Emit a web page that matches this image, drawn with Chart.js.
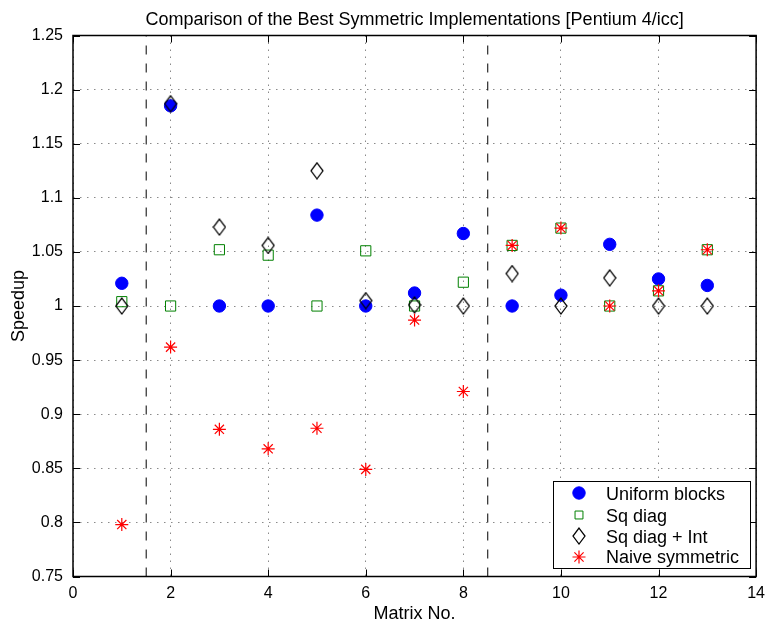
<!DOCTYPE html>
<html>
<head>
<meta charset="utf-8">
<script src="https://cdn.jsdelivr.net/npm/chart.js@4/dist/chart.umd.min.js"></script>
<style>
  html, body { margin: 0; padding: 0; background: #fff; }
  #wrap { width: 772px; height: 626px; }
</style>
</head>
<body>
<div id="wrap"><canvas id="c" width="772" height="626"></canvas></div>
<script>
// Speedup of each symmetric variant, per test matrix
const matrices = [1, 2, 3, 4, 5, 6, 7, 8, 9, 10, 11, 12, 13];
const uniformBlocks = [1.021, 1.185, 1.000, 1.000, 1.084, 1.000, 1.012, 1.067, 1.000, 1.010, 1.057, 1.025, 1.019];
const sqDiag        = [1.004, 1.000, 1.052, 1.047, 1.000, 1.051, 1.000, 1.022, 1.056, 1.072, 1.000, 1.014, 1.052];
const sqDiagInt     = [1.000, 1.187, 1.073, 1.056, 1.125, 1.005, 1.001, 1.000, 1.030, 1.000, 1.026, 1.000, 1.000];
const naiveSym      = [0.798, 0.962, 0.886, 0.868, 0.887, 0.849, 0.987, 0.921, 1.056, 1.072, 1.000, 1.014, 1.052];

// Group boundaries (dashed vertical lines)
const separators = [1.5, 8.5];

// Axis ticks
const xTicks = [0, 2, 4, 6, 8, 10, 12, 14];
const yTicks = [0.75, 0.8, 0.85, 0.9, 0.95, 1, 1.05, 1.1, 1.15, 1.2, 1.25];
const yTickLabels = ['0.75', '0.8', '0.85', '0.9', '0.95', '1', '1.05', '1.1', '1.15', '1.2', '1.25'];

const seriesNames = ['Uniform blocks', 'Sq diag', 'Sq diag + Int', 'Naive symmetric'];
const titleText = 'Comparison of the Best Symmetric Implementations [Pentium 4/icc]';
const xTitle = 'Matrix No.';
const yTitle = 'Speedup';

const FONT = '"Liberation Sans", Arial, Helvetica, sans-serif';

// Tall open diamond marker
function makeDiamond() {
  const c = document.createElement('canvas');
  c.width = 14; c.height = 18;
  const g = c.getContext('2d');
  g.strokeStyle = '#000';
  g.lineWidth = 1.25;
  g.beginPath();
  g.moveTo(7, 1); g.lineTo(13, 9); g.lineTo(7, 17); g.lineTo(1, 9); g.closePath();
  g.stroke();
  return c;
}
const diamond = makeDiamond();

const pts = vals => matrices.map((m, i) => ({ x: m, y: vals[i] }));

const markerStyles = [
  { pointStyle: 'circle', radius: 6.2, fill: '#0000ff', stroke: '#0000ff', width: 1 },
  { pointStyle: 'rect', radius: 7.2, fill: 'rgba(0,0,0,0)', stroke: '#008000', width: 1 },
  { pointStyle: diamond, radius: 8, fill: 'rgba(0,0,0,0)', stroke: '#000', width: 1 },
  { pointStyle: 'star', radius: 6.5, fill: 'rgba(0,0,0,0)', stroke: '#ff0000', width: 1.2 }
];

const seriesValues = [uniformBlocks, sqDiag, sqDiagInt, naiveSym];

const datasets = seriesValues.map((vals, k) => ({
  label: seriesNames[k],
  data: pts(vals),
  pointStyle: markerStyles[k].pointStyle,
  pointRadius: markerStyles[k].radius,
  pointBackgroundColor: markerStyles[k].fill,
  pointBorderColor: markerStyles[k].stroke,
  pointBorderWidth: markerStyles[k].width,
  order: 4 - k
}));

separators.forEach(s => {
  datasets.push({
    label: '',
    data: [{ x: s, y: yTicks[0] }, { x: s, y: yTicks[yTicks.length - 1] }],
    showLine: true,
    borderColor: '#000',
    borderWidth: 1,
    borderDash: [9, 9],
    pointRadius: 0,
    order: 10
  });
});

// Frame, inward tick marks, titles and legend
const decor = {
  id: 'decor',
  afterDraw(chart) {
    const ctx = chart.ctx;
    const a = chart.chartArea;
    const xs = chart.scales.x, ys = chart.scales.y;
    ctx.save();

    // inward ticks
    ctx.strokeStyle = '#000';
    ctx.lineWidth = 1;
    ctx.beginPath();
    const tl = 7;
    xTicks.forEach(v => {
      const px = Math.round(xs.getPixelForValue(v)) + 0.5;
      ctx.moveTo(px, a.bottom); ctx.lineTo(px, a.bottom - tl);
      ctx.moveTo(px, a.top); ctx.lineTo(px, a.top + tl);
    });
    yTicks.forEach(v => {
      const py = Math.round(ys.getPixelForValue(v)) + 0.5;
      ctx.moveTo(a.left, py); ctx.lineTo(a.left + tl, py);
      ctx.moveTo(a.right, py); ctx.lineTo(a.right - tl, py);
    });
    ctx.stroke();

    // axes box
    ctx.lineWidth = 1.5;
    ctx.strokeRect(a.left, a.top, a.right - a.left, a.bottom - a.top);

    // title
    ctx.fillStyle = '#000';
    ctx.font = '18px ' + FONT;
    ctx.textAlign = 'center';
    ctx.textBaseline = 'alphabetic';
    const cx = (a.left + a.right) / 2;
    ctx.fillText(titleText, cx, 25);

    // x axis title
    ctx.fillText(xTitle, cx, 619);

    // y axis title
    ctx.save();
    ctx.translate(24, (a.top + a.bottom) / 2);
    ctx.rotate(-Math.PI / 2);
    ctx.fillText(yTitle, 0, 0);
    ctx.restore();

    // legend
    const lx = 553.5, ly = 481.5, lw = 197, lh = 87;
    ctx.fillStyle = '#fff';
    ctx.fillRect(lx, ly, lw, lh);
    ctx.strokeStyle = '#000';
    ctx.lineWidth = 1;
    ctx.strokeRect(lx, ly, lw, lh);
    const rowMarkY = [493, 515, 536, 557];
    const rowTextY = [500, 522, 543, 563];
    ctx.textAlign = 'left';
    ctx.font = '18px ' + FONT;
    seriesNames.forEach((name, k) => {
      const m = markerStyles[k];
      ctx.save();
      ctx.fillStyle = m.fill;
      ctx.strokeStyle = m.stroke;
      ctx.lineWidth = m.width;
      Chart.helpers.drawPoint(ctx, {
        pointStyle: m.pointStyle,
        radius: k === 1 ? 5.6 : m.radius,
        borderWidth: m.width,
        rotation: 0
      }, 579, rowMarkY[k]);
      ctx.restore();
      ctx.fillStyle = '#000';
      ctx.fillText(name, 606, rowTextY[k]);
    });

    ctx.restore();
  }
};

new Chart(document.getElementById('c'), {
  type: 'scatter',
  data: { datasets },
  options: {
    responsive: false,
    devicePixelRatio: 1,
    animation: false,
    events: [],
    layout: { padding: { left: 0, right: 13, top: 35.5, bottom: 0 } },
    plugins: {
      legend: { display: false },
      title: { display: false },
      tooltip: { enabled: false }
    },
    scales: {
      x: {
        type: 'linear',
        min: 0, max: 14,
        afterBuildTicks: s => { s.ticks = xTicks.map(v => ({ value: v })); },
        afterFit: s => { s.height = 49.5; },
        ticks: {
          color: '#000',
          font: { family: FONT, size: 16 },
          padding: 7,
          maxRotation: 0,
          callback: v => String(v)
        },
        grid: { color: '#8a8a8a', lineWidth: 1, drawTicks: false },
        border: { display: false, dash: [1.5, 5.5] }
      },
      y: {
        type: 'linear',
        min: 0.75, max: 1.25,
        afterBuildTicks: s => { s.ticks = yTicks.map(v => ({ value: v })); },
        afterFit: s => { s.width = 73; },
        ticks: {
          color: '#000',
          font: { family: FONT, size: 16 },
          padding: 10,
          callback: (v, i) => yTickLabels[i]
        },
        grid: { color: '#8a8a8a', lineWidth: 1, drawTicks: false },
        border: { display: false, dash: [1.5, 5.5] }
      }
    }
  },
  plugins: [decor]
});
</script>
</body>
</html>
